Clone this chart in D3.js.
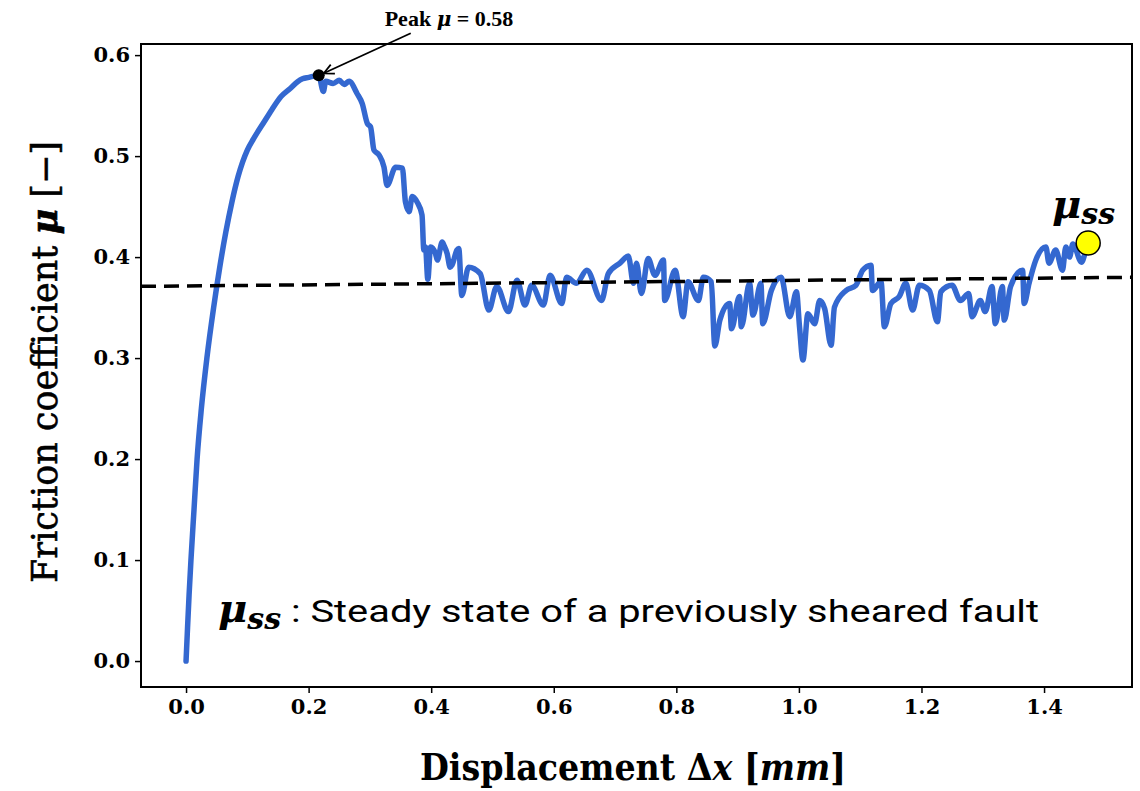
<!DOCTYPE html>
<html>
<head>
<meta charset="utf-8">
<script src="https://cdn.jsdelivr.net/npm/d3@7"></script>
<style>
  body { margin: 0; background: #fff; }
  svg { display: block; }
</style>
</head>
<body>
<svg id="chart" width="1140" height="791"></svg>
<script>
// displacement (mm) and friction coefficient
const disp = [0, 0.002, 0.005, 0.008, 0.013, 0.018, 0.025, 0.034, 0.045, 0.055, 0.065, 0.075, 0.085, 0.100, 0.11, 0.1275, 0.14, 0.155, 0.17, 0.182, 0.19, 0.200, 0.207, 0.2165,
  0.224, 0.228, 0.24, 0.25, 0.258, 0.266, 0.279, 0.2875, 0.296, 0.301, 0.3066, 0.315, 0.323, 0.328, 0.342, 0.353, 0.358, 0.364, 0.369, 0.377,
  0.385, 0.388, 0.3907, 0.3945, 0.399, 0.407, 0.41, 0.418, 0.4205, 0.426, 0.431, 0.434, 0.442, 0.445, 0.450, 0.461, 0.480, 0.494, 0.507,
  0.526, 0.540, 0.553, 0.564, 0.583, 0.594, 0.613, 0.621, 0.637, 0.654, 0.678, 0.689, 0.708, 0.7217, 0.730, 0.735, 0.743, 0.754, 0.765,
  0.779, 0.781, 0.798, 0.811, 0.819, 0.836, 0.844, 0.857, 0.8628, 0.871, 0.887, 0.890, 0.903, 0.906, 0.9195, 0.925, 0.938, 0.941, 0.955,
  0.971, 0.985, 0.996, 1.001, 1.0066, 1.0147, 1.0256, 1.034, 1.042, 1.0525, 1.058, 1.077, 1.093, 1.104, 1.1176, 1.120, 1.134, 1.1395,
  1.150, 1.1637, 1.1745, 1.1855, 1.1965, 1.2128, 1.226, 1.2315, 1.250, 1.2635, 1.277, 1.2825, 1.296, 1.304, 1.315, 1.3205, 1.332, 1.335,
  1.3455, 1.365, 1.3675, 1.3755, 1.3865, 1.403, 1.408, 1.419, 1.430, 1.4355, 1.4415, 1.447, 1.461, 1.466];
const mu = [0, 0.027, 0.066, 0.1, 0.15, 0.2, 0.25, 0.3, 0.35, 0.39, 0.425, 0.455, 0.48, 0.506, 0.517, 0.534, 0.546, 0.559, 0.567, 0.5736, 0.5765, 0.578, 0.579, 0.580,
  0.564, 0.574, 0.572, 0.575, 0.571, 0.574, 0.562, 0.552, 0.532, 0.529, 0.506, 0.501, 0.489, 0.471, 0.489, 0.488, 0.4545, 0.445, 0.460, 0.4545,
  0.4416, 0.407, 0.410, 0.378, 0.410, 0.4036, 0.397, 0.415, 0.412, 0.4036, 0.390, 0.392, 0.407, 0.4086, 0.362, 0.390, 0.3836, 0.3475, 0.371,
  0.346, 0.377, 0.3525, 0.372, 0.3525, 0.382, 0.354, 0.380, 0.374, 0.387, 0.357, 0.3836, 0.394, 0.401, 0.374, 0.394, 0.364, 0.3985, 0.382,
  0.397, 0.357, 0.387, 0.341, 0.3755, 0.357, 0.380, 0.3755, 0.312, 0.3376, 0.354, 0.329, 0.361, 0.331, 0.374, 0.3426, 0.374, 0.334, 0.367,
  0.380, 0.341, 0.3656, 0.331, 0.298, 0.344, 0.334, 0.357, 0.349, 0.3128, 0.3505, 0.367, 0.372, 0.387, 0.392, 0.367, 0.3755, 0.331,
  0.354, 0.361, 0.374, 0.3475, 0.372, 0.367, 0.336, 0.3656, 0.372, 0.357, 0.364, 0.341, 0.357, 0.346, 0.371, 0.334, 0.371, 0.3376,
  0.371, 0.387, 0.354, 0.374, 0.397, 0.410, 0.394, 0.407, 0.387, 0.410, 0.400, 0.413, 0.395, 0.402];

const xTicks = [0, 0.2, 0.4, 0.6, 0.8, 1.0, 1.2, 1.4];
const yTicks = [0, 0.1, 0.2, 0.3, 0.4, 0.5, 0.6];
const peak = [0.2165, 0.580];
const steady = [1.472, 0.414];
const refLineX = [-0.0735, 1.5435];
const refLineY = [0.371, 0.380];

const margin = { top: 44, right: 8, bottom: 104, left: 141 },
    width = 1140 - margin.left - margin.right,
    height = 791 - margin.top - margin.bottom;

const svg = d3.select("#chart");
const g = svg.append("g").attr("transform", `translate(${margin.left}, ${margin.top})`);

const x = d3.scaleLinear().domain([-0.0735, 1.5435]).range([0, width]);
const y = d3.scaleLinear().domain([-0.0257, 0.611]).range([height, 0]);

// curve
const data = disp.map((d, i) => [d, mu[i]]);
g.append("path")
    .datum(data)
    .attr("fill", "none")
    .attr("stroke", "#3468d0")
    .attr("stroke-width", 5.5)
    .attr("stroke-linejoin", "round")
    .attr("stroke-linecap", "round")
    .attr("d", d3.line().curve(d3.curveMonotoneX).x(d => x(d[0])).y(d => y(d[1])));

// dashed reference line
g.append("line")
    .attr("x1", x(refLineX[0])).attr("y1", y(refLineY[0]))
    .attr("x2", x(refLineX[1])).attr("y2", y(refLineY[1]))
    .attr("stroke", "#000")
    .attr("stroke-width", 3.5)
    .attr("stroke-dasharray", "15,8");

// axes
const xAxis = g.append("g")
    .attr("transform", `translate(0, ${height})`)
    .call(d3.axisBottom(x).tickValues(xTicks).tickFormat(d3.format(".1f")).tickSize(6).tickPadding(6));
const yAxis = g.append("g")
    .call(d3.axisLeft(y).tickValues(yTicks).tickFormat(d3.format(".1f")).tickSize(6).tickPadding(5));
[xAxis, yAxis].forEach(a => {
    a.select(".domain").remove();
    a.selectAll("line").attr("stroke", "#000").attr("stroke-width", 1.5);
    a.selectAll("text")
        .attr("fill", "#000")
        .style("font-family", "'DejaVu Serif', serif")
        .style("font-weight", "bold")
        .style("font-size", "21px");
});

// frame
g.append("rect")
    .attr("width", width).attr("height", height)
    .attr("fill", "none").attr("stroke", "#000").attr("stroke-width", 2);

// peak marker and annotation
svg.append("defs").append("marker")
    .attr("id", "arrow")
    .attr("viewBox", "0 0 12 12")
    .attr("refX", 11).attr("refY", 6)
    .attr("markerWidth", 12).attr("markerHeight", 12)
    .attr("markerUnits", "userSpaceOnUse")
    .attr("orient", "auto")
    .append("path")
    .attr("d", "M1,1 L11,6 L1,11")
    .attr("fill", "none").attr("stroke", "#000").attr("stroke-width", 1.8);

g.append("circle")
    .attr("cx", x(peak[0])).attr("cy", y(peak[1]))
    .attr("r", 6).attr("fill", "#000");

g.append("line")
    .attr("x1", x(peak[0]) + 92).attr("y1", y(peak[1]) - 42)
    .attr("x2", x(peak[0]) + 5).attr("y2", y(peak[1]) - 2)
    .attr("stroke", "#000").attr("stroke-width", 1.8)
    .attr("marker-end", "url(#arrow)");

const peakLabel = svg.append("text")
    .attr("x", 449).attr("y", 26)
    .attr("text-anchor", "middle")
    .style("font-family", "'Liberation Serif', serif")
    .style("font-weight", "bold")
    .style("font-size", "22px");
peakLabel.append("tspan").text("Peak ");
peakLabel.append("tspan").style("font-family", "'DejaVu Serif', serif").style("font-style", "italic").style("font-size", "20px").text("μ");
peakLabel.append("tspan").text(" = 0.58");

// steady state marker
g.append("circle")
    .attr("cx", x(steady[0])).attr("cy", y(steady[1]))
    .attr("r", 12).attr("fill", "#ffff00")
    .attr("stroke", "#000").attr("stroke-width", 1.5);

const ssLabel = svg.append("text")
    .attr("x", 1052).attr("y", 218)
    .style("font-family", "'DejaVu Serif', serif")
    .style("font-weight", "bold")
    .style("font-style", "italic");
ssLabel.append("tspan").style("font-size", "40px").text("μ");
ssLabel.append("tspan").style("font-size", "30px").attr("dy", 6).text("ss");

// note text
const note = svg.append("text")
    .attr("x", 218).attr("y", 622);
note.append("tspan")
    .style("font-family", "'DejaVu Serif', serif")
    .style("font-weight", "bold").style("font-style", "italic")
    .style("font-size", "40px").text("μ");
note.append("tspan")
    .style("font-family", "'DejaVu Serif', serif")
    .style("font-weight", "bold").style("font-style", "italic")
    .style("font-size", "30px").attr("dy", 7).text("ss");
note.append("tspan")
    .style("font-family", "Roboto, sans-serif")
    .style("font-size", "32px").attr("dy", -7)
    .attr("textLength", 758)
    .attr("lengthAdjust", "spacingAndGlyphs")
    .text(" : Steady state of a previously sheared fault");

// axis titles
const xTitle = svg.append("text")
    .attr("x", 633).attr("y", 780)
    .attr("text-anchor", "middle")
    .style("font-family", "'DejaVu Serif Condensed', serif")
    .style("font-weight", "bold")
    .style("font-size", "37px");
xTitle.append("tspan").text("Displacement Δ");
xTitle.append("tspan").style("font-style", "italic").text("x");
xTitle.append("tspan").text(" [");
xTitle.append("tspan").style("font-style", "italic").text("mm");
xTitle.append("tspan").text("]");

const yTitle = svg.append("text")
    .attr("transform", "translate(57, 362) rotate(-90)")
    .attr("text-anchor", "middle")
    .attr("stroke", "#000").attr("stroke-width", 0.6)
    .style("font-family", "'DejaVu Serif', serif")
    .style("font-size", "35px");
yTitle.append("tspan").text("Friction coefficient ");
yTitle.append("tspan").style("font-style", "italic").style("font-weight", "bold").text("μ");
yTitle.append("tspan").text(" [−]");
</script>
</body>
</html>
